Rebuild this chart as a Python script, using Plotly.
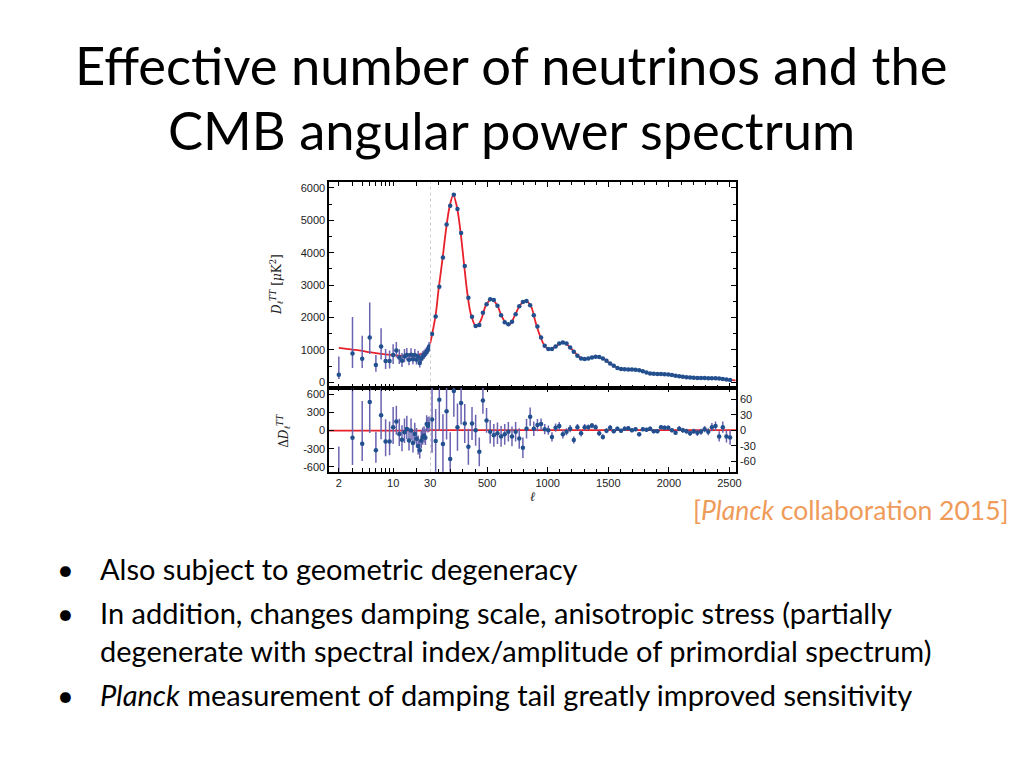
import math
import plotly.graph_objects as go

# low multipoles (l = 2..29), log x axis
ell_low = [2, 3, 4, 5, 6, 7, 8, 9, 10, 11, 12, 13, 14, 15,
           16, 17, 18, 19, 20, 21, 22, 23, 24, 25, 26, 27, 28, 29]
dl_low = [234, 892, 726, 1385, 532, 1108, 655, 655, 840, 985, 769, 665, 800, 840,
          695, 850, 715, 840, 695, 800, 594, 730, 800, 840, 892, 942, 994, 1108]
err_low_up = [566, 1126, 708, 1077, 308, 560, 370, 330, 338, 260, 250, 240, 230, 220,
              210, 200, 190, 185, 180, 175, 170, 165, 160, 155, 150, 145, 140, 135]
err_low_dn = [132, 452, 286, 514, 206, 400, 246, 230, 277, 220, 200, 190, 180, 170,
              165, 160, 155, 150, 145, 140, 135, 130, 125, 120, 118, 115, 112, 110]
res_low = [-830, -120, -218, 475, -328, 257, -180, -180, 55, 153, -55, -153, -27, 27,
           -164, 0, -207, -55, -137, -257, -328, -164, -109, -82, -120, 109, 82, 100]

# best-fit model at low l
model_low_ell = [2, 3, 4, 5, 7, 10, 14, 18, 22, 25, 27, 29, 30]
model_low_dl = [1065, 1010, 970, 930, 880, 840, 820, 820, 860, 920, 990, 1100, 1200]

# binned high multipoles, linear x axis
ell_high = [45, 75, 105, 135, 165, 195, 225, 255, 285, 315,
            345, 375, 405, 435, 465, 495, 525, 555, 585, 615,
            645, 675, 705, 735, 765, 795, 825, 855, 885, 915,
            945, 975, 1005, 1035, 1065, 1095, 1125, 1155, 1185, 1215,
            1245, 1275, 1305, 1335, 1365, 1395, 1425, 1455, 1485, 1515,
            1545, 1575, 1605, 1635, 1665, 1695, 1725, 1755, 1785, 1815,
            1845, 1875, 1905, 1935, 1965, 1995, 2025, 2055, 2085, 2115,
            2145, 2175, 2205, 2235, 2265, 2295, 2325, 2355, 2385, 2415,
            2445, 2475, 2505]
dl_high = [1490, 2030, 2950, 3850, 4870, 5450, 5790, 5350, 4610, 3590,
           2610, 2020, 1740, 1770, 2150, 2410, 2560, 2540, 2360, 2070,
           1850, 1790, 1870, 2100, 2350, 2480, 2510, 2380, 2070, 1720,
           1385, 1126, 1025, 1025, 1108, 1200, 1230, 1200, 1077, 942,
           818, 738, 717, 738, 769, 788, 778, 738, 665, 584,
           511, 440, 409, 400, 395, 395, 390, 375, 340, 300,
           275, 262, 258, 255, 250, 240, 225, 205, 185, 168,
           155, 145, 140, 135, 132, 130, 128, 125, 122, 115,
           105, 90, 70]
res_high = [21, -21, 59, -27, 37, -56, 76, 6, 53, 13,
            -32, 13, 0, -42, 58, 19, -3, -10, -6, -12,
            -8, -3, -12, -3, -16, -34, 3, 26, 3, 10,
            12, 2, 0, -13, 5, 8, -8, -3, 3, -19,
            6, -6, 6, 6, 9, 6, -6, -13, -1, 5,
            -2, 3, -1, 3, 4, 0, 2, -8, 2, 1,
            3, -2, -2, 6, 5, 5, 0, -5, 3, 0,
            -2, -6, -2, -5, -3, 2, -3, 6, 8, -12,
            6, -12, -14]
err_high = [65, 62, 60, 58, 55, 52, 50, 46, 42, 38,
            35, 32, 30, 28, 26, 24, 23, 22, 21, 20,
            20, 19, 19, 19, 20, 20, 19, 18, 14, 12,
            11, 10, 9, 9, 8, 8, 8, 7, 7, 7,
            6, 6, 6, 5, 5, 5, 5, 5, 5, 5,
            4, 4, 4, 4, 4, 4, 4, 4, 4, 4,
            4, 4, 4, 4, 4, 4, 4, 4, 5, 5,
            5, 5, 5, 6, 6, 6, 7, 8, 9, 10,
            11, 12, 14]

# best-fit model at high l
model_high_ell = [30, 50, 75, 100, 130, 160, 190, 220, 250, 280, 310, 340, 370, 410,
                  450, 490, 535, 580, 620, 660, 690, 730, 770, 815, 860, 900, 940,
                  980, 1010, 1060, 1120, 1170, 1220, 1260, 1300, 1340, 1380, 1420,
                  1460, 1500, 1550, 1600, 1650, 1700, 1750, 1800, 1850, 1900, 2000,
                  2100, 2200, 2300, 2400, 2500, 2550]
model_high_dl = [1200, 1560, 2080, 2900, 3760, 4700, 5420, 5780, 5420, 4650, 3620, 2650,
                 2040, 1720, 1930, 2380, 2570, 2400, 2040, 1810, 1800, 2080, 2370, 2520,
                 2360, 1850, 1400, 1090, 1020, 1090, 1230, 1130, 930, 790, 725, 740, 780,
                 785, 730, 620, 500, 415, 395, 395, 380, 325, 275, 260, 238, 180, 142,
                 130, 120, 75, 60]

res_left_ticks = [600, 300, 0, -300, -600]
res_right_ticks = [60, 30, 0, -30, -60]

pt_color = '#22508f'
bar_color = '#6a63b0'
red = '#e8202a'
axis_font = dict(family='Liberation Sans', size=11, color='#222222')
text_font = 'Lato'

# the page body shifts the figure a little, so slide pixels are moved back
OFF_X = 5
OFF_Y = 8


def px(x):
    return (x - OFF_X) / 1024


def py(y):
    return 1 - (y - OFF_Y) / 768


fig = go.Figure()

fig.add_trace(go.Scatter(x=model_low_ell, y=model_low_dl, mode='lines',
                         line=dict(color=red, width=1.8, shape='spline'),
                         xaxis='x', yaxis='y'))
fig.add_trace(go.Scatter(
    x=ell_low, y=dl_low, mode='markers', xaxis='x', yaxis='y',
    marker=dict(color=pt_color, size=4.5),
    error_y=dict(type='data', symmetric=False, array=err_low_up, arrayminus=err_low_dn,
                 color=bar_color, thickness=1.5, width=0)))
fig.add_trace(go.Scatter(x=model_high_ell, y=model_high_dl, mode='lines',
                         line=dict(color=red, width=1.8, shape='spline'),
                         xaxis='x2', yaxis='y2'))
fig.add_trace(go.Scatter(x=ell_high, y=dl_high, mode='markers', xaxis='x2', yaxis='y2',
                         marker=dict(color=pt_color, size=4.5)))

fig.add_trace(go.Scatter(
    x=ell_low, y=res_low, mode='markers', xaxis='x3', yaxis='y3',
    marker=dict(color=pt_color, size=4.5),
    error_y=dict(type='data', symmetric=False, array=err_low_up, arrayminus=err_low_dn,
                 color=bar_color, thickness=1.5, width=0)))
fig.add_trace(go.Scatter(
    x=ell_high, y=res_high, mode='markers', xaxis='x4', yaxis='y4',
    marker=dict(color=pt_color, size=4.5),
    error_y=dict(type='data', array=err_high, color=bar_color, thickness=1.5, width=0)))

# split position (l = 30) and panel edges, in paper fractions
x_left, x_split, x_right = px(328), px(429.7), px(737.3)
y_top, y_mid, y_bot = py(182.3), py(388), py(472.3)

log_range = [math.log10(1.5), math.log10(30)]
log_ticks = [2, 3, 4, 5, 6, 7, 8, 9, 10, 20, 30]
log_text = ['2', '', '', '', '', '', '', '', '10', '', '30']

frame = dict(showline=True, linecolor='black', linewidth=1.5, ticks='inside',
             tickcolor='black', showgrid=False, zeroline=False, tickfont=axis_font)

fig.update_layout(
    xaxis=dict(frame, type='log', range=log_range, domain=[x_left, x_split],
               anchor='y', mirror='ticks', tickvals=log_ticks, showticklabels=False,
               ticklen=4),
    xaxis2=dict(frame, range=[30, 2554], domain=[x_split, x_right], anchor='y2',
                mirror='ticks', tickvals=[500, 1000, 1500, 2000, 2500],
                showticklabels=False, ticklen=5,
                minor=dict(dtick=100, tick0=0, ticks='inside', ticklen=3,
                           tickcolor='black')),
    xaxis3=dict(frame, type='log', range=log_range, domain=[x_left, x_split],
                anchor='y3', mirror='ticks', tickvals=log_ticks, ticktext=log_text,
                ticklen=4),
    xaxis4=dict(frame, range=[30, 2554], domain=[x_split, x_right], anchor='y4',
                mirror='ticks', tickvals=[500, 1000, 1500, 2000, 2500], ticklen=5,
                minor=dict(dtick=100, tick0=0, ticks='inside', ticklen=3,
                           tickcolor='black')),
    yaxis=dict(frame, range=[-160, 6180], domain=[y_mid, y_top], anchor='x',
               dtick=1000, ticklen=5,
               minor=dict(dtick=500, ticks='inside', ticklen=3, tickcolor='black')),
    yaxis2=dict(frame, range=[-160, 6180], domain=[y_mid, y_top], anchor='x2',
                side='right', dtick=1000, ticklen=5, showticklabels=False,
                minor=dict(dtick=500, ticks='inside', ticklen=3, tickcolor='black')),
    yaxis3=dict(frame, range=[-683, 716], domain=[y_bot, y_mid], anchor='x3',
                tickvals=res_left_ticks, ticktext=[str(v) for v in res_left_ticks],
                ticklen=5),
    yaxis4=dict(frame, range=[-80.6, 83], domain=[y_bot, y_mid], anchor='x4',
                side='right', tickvals=res_right_ticks,
                ticktext=[str(v) for v in res_right_ticks], ticklen=5),
    showlegend=False,
    width=1024, height=768,
    margin=dict(l=0, r=0, t=0, b=0),
    paper_bgcolor='white', plot_bgcolor='white',
)

# l = 30 boundary and zero line of the residuals
for xr, yr in [('x2', 'y2'), ('x4', 'y4')]:
    fig.add_shape(type='line', xref=xr, yref=yr + ' domain', x0=30, x1=30, y0=0, y1=1,
                  line=dict(color='#a8a8a8', width=1, dash='dot'), layer='below')
for xr, yr in [('x3', 'y3'), ('x4', 'y4')]:
    fig.add_shape(type='line', xref=xr + ' domain', yref=yr, x0=0, x1=1, y0=0, y1=0,
                  line=dict(color=red, width=1.8), layer='below')


def label(text, x, y, size, family=text_font, color='black', xanchor='center',
          angle=0):
    fig.add_annotation(text=text, xref='paper', yref='paper', x=px(x), y=py(y),
                       xanchor=xanchor, yanchor='middle', textangle=angle,
                       showarrow=False, font=dict(family=family, size=size, color=color))


# axis titles
label('<i>D</i><sub><i>ℓ</i></sub><sup><i>TT</i></sup> [<i>μ</i>K<sup>2</sup>]',
      275, 285, 12, family='DejaVu Serif', color='#222222', angle=-90)
label('Δ<i>D</i><sub><i>ℓ</i></sub><sup><i>TT</i></sup>',
      283, 431, 12, family='DejaVu Serif', color='#222222', angle=-90)
label('<i>ℓ</i>', 533, 497, 13, family='DejaVu Serif', color='#222222')

# slide text
label('Effective number of neutrinos and the', 511, 65, 52.5)
label('CMB angular power spectrum', 511, 130, 52.5)
label('[<i>Planck</i> collaboration 2015]', 1014, 511, 26.5, color='#ef9b5a',
      xanchor='right')

bullets = [
    (569, '•', 'Also subject to geometric degeneracy'),
    (613, '•', 'In addition, changes damping scale, anisotropic stress (partially'),
    (651, '', 'degenerate with spectral index/amplitude of primordial spectrum)'),
    (695, '•', '<i>Planck</i> measurement of damping tail greatly improved sensitivity'),
]
for ypix, mark, line in bullets:
    if mark:
        label(mark, 63, ypix, 29)
    label(line, 96, ypix, 29, xanchor='left')

fig.write_html("out.html")
